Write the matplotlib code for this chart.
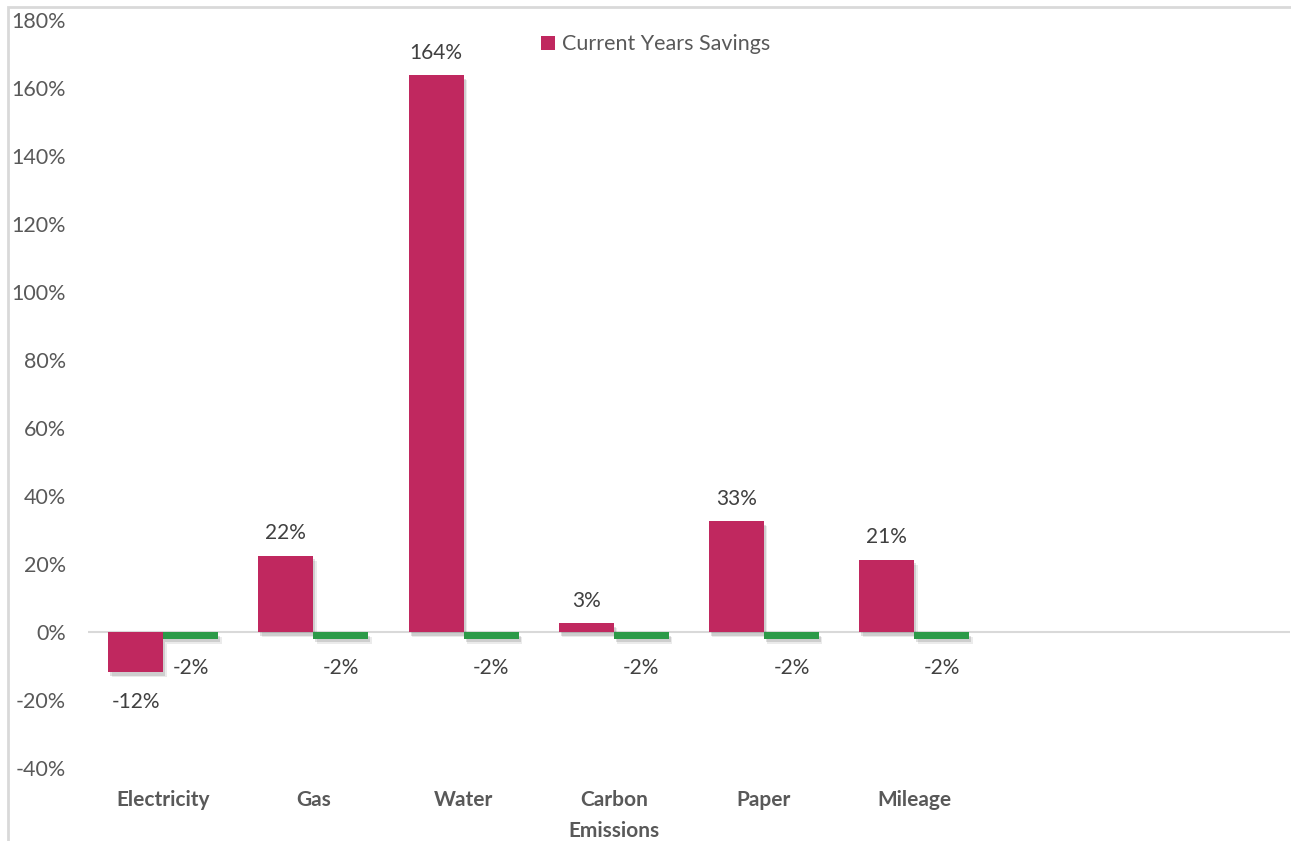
import matplotlib.pyplot as plt
import matplotlib.patheffects as pe
from matplotlib.patches import Rectangle
import numpy as np

# Données du graphique
categories = ["Electricity", "Gas", "Water", "Carbon\nEmissions", "Paper", "Mileage", "", ""]
current_savings = [-0.118, 0.224, 1.638, 0.026, 0.326, 0.212]
second_series = [-0.02, -0.02, -0.02, -0.02, -0.02, -0.02]
y_ticks = [-0.4, -0.2, 0.0, 0.2, 0.4, 0.6, 0.8, 1.0, 1.2, 1.4, 1.6, 1.8]

plt.rcParams['font.family'] = ['Lato', 'DejaVu Sans']

pink = '#C0285F'
green = '#2C9A48'
grey_txt = '#595959'
label_txt = '#404040'

fig = plt.figure(figsize=(12.91, 8.41), dpi=100)
ax = fig.add_axes([0.0682, 0.0868, 0.9308, 0.8892])

x = np.arange(len(categories))
w = 0.366
shadow = [pe.SimplePatchShadow(offset=(1.5, -2.5), shadow_rgbFace='black', alpha=0.12),
          pe.SimplePatchShadow(offset=(2.5, -3.5), shadow_rgbFace='black', alpha=0.08),
          pe.Normal()]

n = len(current_savings)
b1 = ax.bar(x[:n] - w / 2, current_savings, w, color=pink, label="Current Years Savings",
            path_effects=shadow, zorder=3)
b2 = ax.bar(x[:n] + w / 2, second_series, w, color=green, path_effects=shadow, zorder=3)

for rect, v in zip(b1, current_savings):
    cx = rect.get_x() + rect.get_width() / 2
    if v >= 0:
        ax.annotate(f"{v * 100:.0f}%", (cx, v), xytext=(0, 9), textcoords='offset points',
                    ha='center', va='bottom', fontsize=15, color=label_txt)
    else:
        ax.annotate(f"{v * 100:.0f}%", (cx, v), xytext=(0, -14), textcoords='offset points',
                    ha='center', va='top', fontsize=15, color=label_txt)
for rect, v in zip(b2, second_series):
    cx = rect.get_x() + rect.get_width() / 2
    ax.annotate(f"{v * 100:.0f}%", (cx, v), xytext=(0, -14), textcoords='offset points',
                ha='center', va='top', fontsize=15, color=label_txt)

ax.axhline(0, color='#D9D9D9', lw=1.5, zorder=2)
ax.set_xlim(-0.5, len(categories) - 0.5)
ax.set_ylim(-0.4, 1.8)
ax.set_yticks(y_ticks)
ax.set_yticklabels([f"{t * 100:.0f}%" for t in y_ticks], fontsize=15.5, color=grey_txt)
ax.set_xticks(x)
ax.set_xticklabels(categories, fontsize=15, fontweight='bold', color=grey_txt, linespacing=1.7)
ax.tick_params(axis='y', length=0, pad=16)
ax.tick_params(axis='x', length=0, pad=16)
for s in ax.spines.values():
    s.set_visible(False)

# cadre du graphique
fig.add_artist(Rectangle((8 / 1291, -0.01), 1.2, 1 - 7 / 841 + 0.01, transform=fig.transFigure,
                         fill=False, edgecolor='#D9D9D9', lw=2))

leg = ax.legend(loc='upper left', bbox_to_anchor=(0.361, 1.007), frameon=False, fontsize=15.5,
                handlelength=0.65, handleheight=0.65, handletextpad=0.3, labelcolor=grey_txt)
for h in leg.legend_handles:
    h.set_path_effects([])

fig.savefig("out.png", dpi=100)
